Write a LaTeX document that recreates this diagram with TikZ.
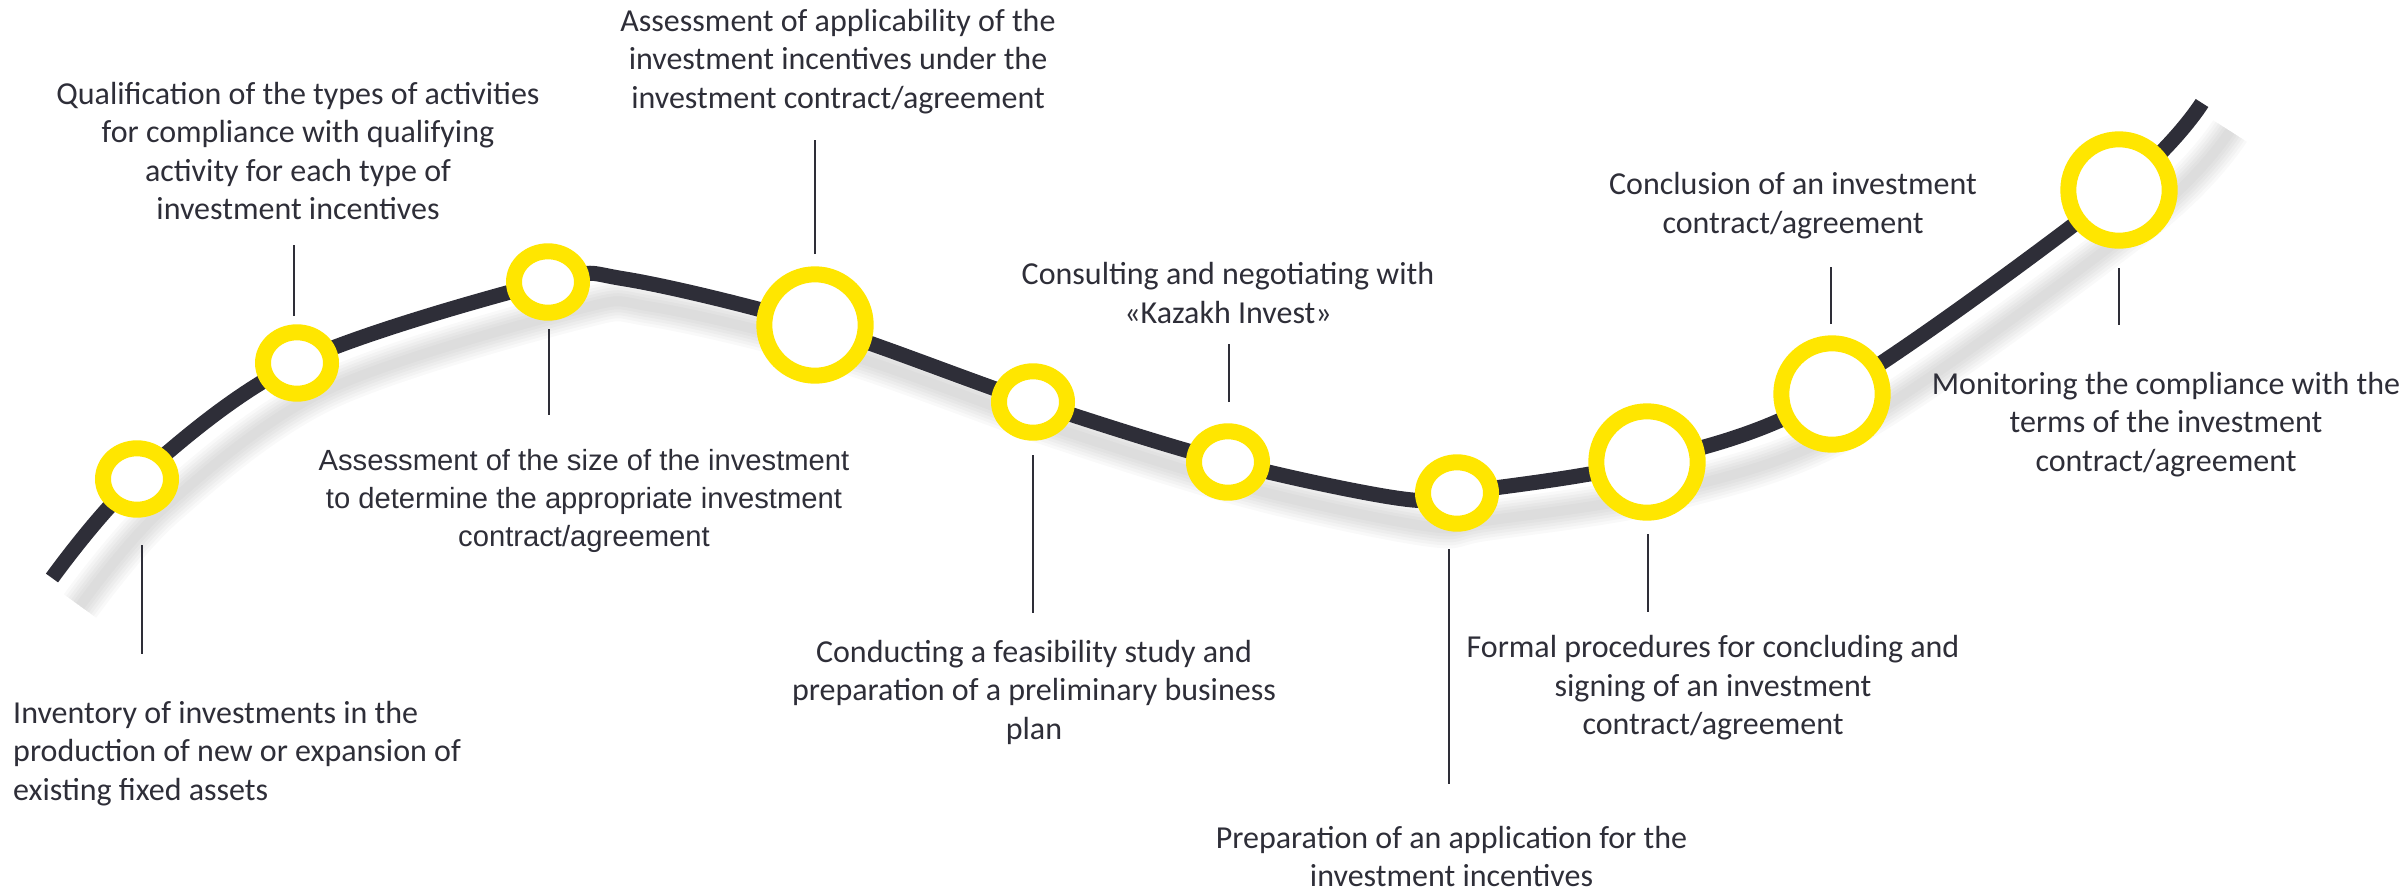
\documentclass[tikz,border=0pt]{standalone}
\usepackage{fontspec}
\setmainfont{Carlito}
\newfontfamily\arialfont{Liberation Sans}
\usetikzlibrary{shapes.geometric}
\definecolor{eyyellow}{RGB}{255,230,0}
\definecolor{eydark}{RGB}{46,46,56}

% the winding road through all milestones
\def\roadpath{plot[smooth,tension=0.55] coordinates {
  (52,578) (137,479) (297,363) (548,282) (625,279) (815,325) (1033,402)
  (1228,462) (1400,498.5) (1457,493) (1647,462) (1832,394) (2119,190) (2202,103)}}

\begin{document}
\begin{tikzpicture}[x=1pt,y=-1pt,
  road/.style={draw=eydark,line width=15pt,line cap=butt},
  ringsmall/.style={ellipse,draw=eyyellow,fill=white,line width=16pt,
    minimum width=68pt,minimum height=61.4pt,inner sep=0pt},
  ringlarge/.style={circle,draw=eyyellow,fill=white,line width=16pt,
    minimum size=101.4pt,inner sep=0pt},
  leader/.style={draw=eydark,line width=2pt},
  % multi-line texts are placed by the baseline of their last line
  steptext/.style={text=eydark,font=\fontsize{32}{38.5}\selectfont,
    align=center,anchor=base,inner sep=0pt},
  steparial/.style={text=eydark,font=\arialfont\fontsize{29.2}{38}\selectfont,
    align=center,anchor=base,inner sep=0pt}]

\useasboundingbox (0,0) rectangle (2407,892);

% soft shadow under the road
\begin{scope}[shift={(28,28)}]
  \foreach \w in {40,34,28,22,16,10}
    \draw[black,opacity=0.022,line width=\w pt,line cap=butt] \roadpath;
\end{scope}

% the road
\draw[road] \roadpath;

% milestones
\node[ringsmall] (s1) at (137,479) {};
\node[ringsmall] (s2) at (297,363) {};
\node[ringsmall] (s3) at (548,282) {};
\node[ringlarge] (s4) at (815,325) {};
\node[ringsmall] (s5) at (1033,402) {};
\node[ringsmall] (s6) at (1228,462) {};
\node[ringsmall] (s7) at (1457,493) {};
\node[ringlarge] (s8) at (1647,462) {};
\node[ringlarge] (s9) at (1832,394) {};
\node[ringlarge] (s10) at (2119,190) {};

% step descriptions
\node[steptext,align=left,anchor=base west] (t1) at (13,800)
  {Inventory of investments in the\\production of new or expansion of\\existing fixed assets};
\node[steptext] (t2) at (298,219.5)
  {Qualification of the types of activities\\for compliance with qualifying\\activity for each type of\\investment incentives};
\node[steparial] (t3) at (584,546)
  {Assessment of the size of the investment\\to determine the appropriate investment\\contract/agreement};
\node[steptext] (t4) at (838,108)
  {Assessment of applicability of the\\investment incentives under the\\investment contract/agreement};
\node[steptext] (t5) at (1034,739)
  {Conducting a feasibility study and\\preparation of a preliminary business\\plan};
\node[steptext] (t6) at (1228,323)
  {Consulting and negotiating with\\«Kazakh Invest»};
\node[steptext] (t7) at (1451.5,886.5)
  {Preparation of an application for the\\investment incentives};
\node[steptext] (t8) at (1713,734.5)
  {Formal procedures for concluding and\\signing of an investment\\contract/agreement};
\node[steptext] (t9) at (1793,233)
  {Conclusion of an investment\\contract/agreement};
\node[steptext] (t10) at (2166,471)
  {Monitoring the compliance with the\\terms of the investment\\contract/agreement};

% leader ends
\coordinate (l1a) at (142,545);   \coordinate (l1b) at (142,654);
\coordinate (l2a) at (294,316);   \coordinate (l2b) at (294,245);
\coordinate (l3a) at (549,329);   \coordinate (l3b) at (549,415);
\coordinate (l4a) at (815,254);   \coordinate (l4b) at (815,140);
\coordinate (l5a) at (1033,455);  \coordinate (l5b) at (1033,613);
\coordinate (l6a) at (1228.5,402);\coordinate (l6b) at (1228.5,344);
\coordinate (l7a) at (1448.5,549);\coordinate (l7b) at (1448.5,784);
\coordinate (l8a) at (1648,534);  \coordinate (l8b) at (1648,612);
\coordinate (l9a) at (1830.5,324);\coordinate (l9b) at (1830.5,267);
\coordinate (l10a) at (2119,268); \coordinate (l10b) at (2119,325);

\foreach \i in {1,...,10}
  \draw[leader] (l\i a) -- (l\i b);

\end{tikzpicture}
\end{document}
